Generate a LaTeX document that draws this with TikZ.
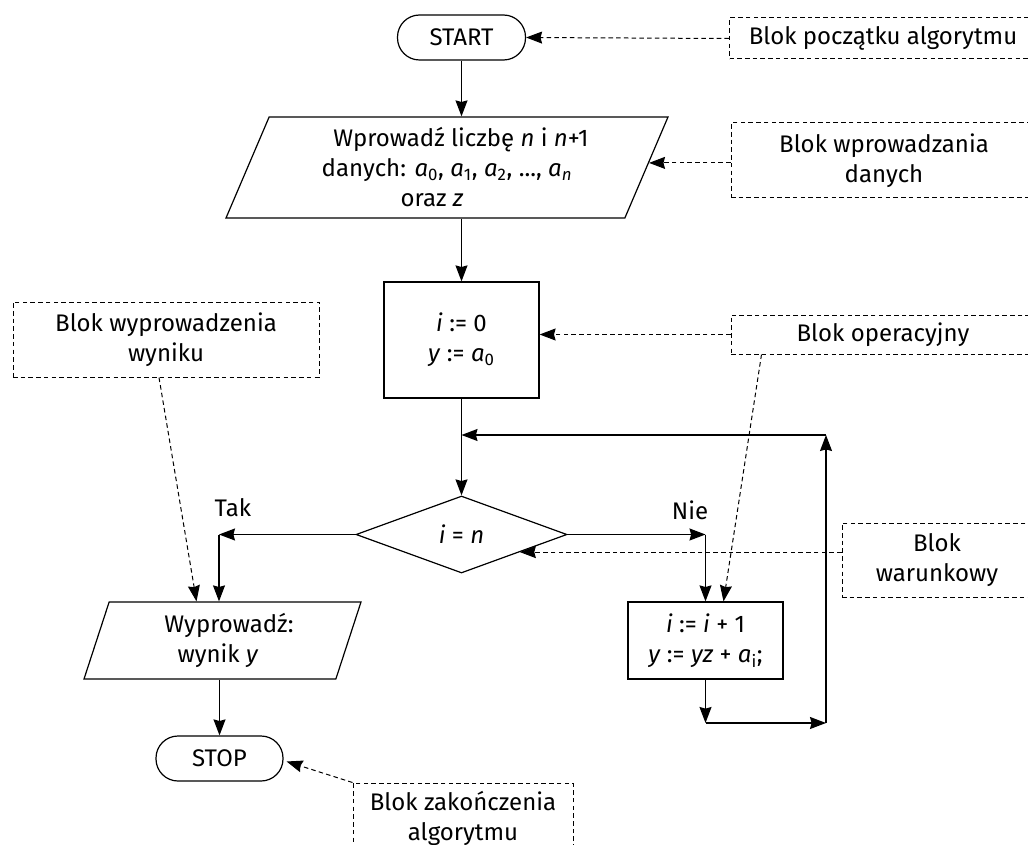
\documentclass[tikz,border=0pt]{standalone}
\usepackage{fontspec}
\setmainfont{Fira Sans}
\usetikzlibrary{shapes.geometric,arrows.meta,calc}

\tikzset{
  txt/.style={font=\fontsize{18}{22.5}\selectfont},
  blk/.style={txt,draw,line width=0.9pt,align=center,inner sep=1pt},
  term/.style={blk,rectangle,rounded corners=16.5pt,minimum width=96pt,minimum height=33.75pt},
  ioblk/.style={blk,trapezium,trapezium stretches body},
  opblk/.style={blk,rectangle},
  condblk/.style={blk,diamond},
  note/.style={txt,draw,line width=0.75pt,dash pattern=on 3.4pt off 2.4pt,align=center,inner sep=1pt},
  flow/.style={line width=0.9pt,-{Stealth[length=12pt,width=9pt,inset=1.2pt]}},
  link/.style={line width=0.75pt,dash pattern=on 3.4pt off 2.4pt,-{Stealth[length=12pt,width=9pt,inset=1.2pt]}},
}

\begin{document}
\begin{tikzpicture}[x=0.75pt,y=0.75pt,yscale=-1,xscale=1]
\useasboundingbox (0,0) rectangle (1028,845);
\clip (0,0) rectangle (1028,845);

%Shape: blocks of the algorithm
\node[term] (start) at (461.5,37.5) {START};
\node[ioblk,trapezium left angle=62.3,trapezium right angle=117.7,minimum width=331.5pt,minimum height=75.75pt] (in) at (447,167.5)
  {Wprowadź liczbę \textit{n} i \textit{n}+1\hspace*{-21pt}\\
   danych: \textit{a}\textsubscript{0}, \textit{a}\textsubscript{1}, \textit{a}\textsubscript{2}, ..., \textit{a}\textsubscript{\textit{n}}\\
   oraz \textit{z}\hspace*{22.5pt}};
\node[opblk,minimum width=116.25pt,minimum height=87pt] (op) at (461.5,340)
  {\textit{i} := 0\\ \textit{y} := \textit{a}\textsubscript{0}};
\node[condblk,minimum width=158.25pt,minimum height=57.75pt] (cond) at (461.5,534.5) {\textit{i} = \textit{n}};
\node[opblk,minimum width=116.25pt,minimum height=57.75pt] (inc) at (705.5,640.5)
  {\textit{i} := \textit{i} + 1\\ \textit{y} := \textit{yz} + \textit{a}\textsubscript{i};};
\node[ioblk,trapezium left angle=66.2,trapezium right angle=113.8,minimum width=207.75pt,minimum height=57.75pt] (out) at (222.5,640.5)
  {Wyprowadź:\hspace*{-9.75pt}\\ wynik \textit{y}\hspace*{6.75pt}};
\node[term,minimum width=95.25pt] (stop) at (219.5,758.5) {STOP};

%Shape: dashed notes
\node[note,minimum width=230.25pt,minimum height=30.75pt] (startnote) at (883,38.5) {Blok początku algorytmu};
\node[note,minimum width=229.5pt,minimum height=56.25pt] (innote) at (884,160.5) {Blok wprowadzania\\ danych};
\node[note,minimum width=228pt,minimum height=29.25pt] (opnote) at (883,334.5) {Blok operacyjny};
\node[note,minimum width=142.5pt,minimum height=55.5pt] (condnote) at (937,560) {Blok\\ warunkowy};
\node[note,minimum width=229.5pt,minimum height=56.25pt] (outnote) at (166,339.5) {Blok wyprowadzenia\\ wyniku};
\node[note,minimum width=165pt,minimum height=52.5pt] (endnote) at (463,818) {Blok zakończenia\\ algorytmu};

% Text Node
\node[txt] (tak) at (233,508) {Tak};
% Text Node
\node[txt] (nie) at (690,510) {Nie};

%Straight Lines: corners of the flow
\coordinate (takc) at (219,534.5);
\coordinate (niec) at (705.5,534.5);
\coordinate (incb) at (705.5,723);
\coordinate (loopb) at (826,723);
\coordinate (loopr) at (826,435);
\coordinate (merge) at (461.5,435);

\draw[flow] (start.south) -- (start.south |- in.north);
\draw[flow] (op.north |- in.south) -- (op.north);
\draw[flow] (op.south) -- (cond.north);
\draw[flow] (cond.west) -- (takc);
\draw[flow] (takc) -- (takc |- out.north);
\draw[flow] (stop.north |- out.south) -- (stop.north);
\draw[flow] (cond.east) -- (niec);
\draw[flow] (niec) -- (inc.north);
\draw[flow] (inc.south) -- (incb);
\draw[flow] (incb) -- (loopb);
\draw[flow] (loopb) -- (loopr);
\draw[flow] (loopr) -- (merge);

%Straight Lines: dashed pointers
\coordinate (intip) at ($(in.top right corner)!0.455!(in.bottom right corner)$);
\coordinate (condtip) at ($(cond.east)!0.45!(cond.south)$);
\draw[link] (startnote.west) -- (start.east);
\draw[link] (innote.west |- intip) -- (intip);
\draw[link] (opnote.west) -- (opnote.west -| op.east);
\draw[link] ($(opnote.south west)+(31,0)$) -- ($(inc.north)+(18,0)$);
\draw[link] (condnote.west |- condtip) -- (condtip);
\draw[link] ($(outnote.south)+(-7,0)$) -- ($(out.north)+(-26,0)$);
\draw[link] (endnote.north west) -- ($(stop.east)+(3,3)$);

\end{tikzpicture}
\end{document}
